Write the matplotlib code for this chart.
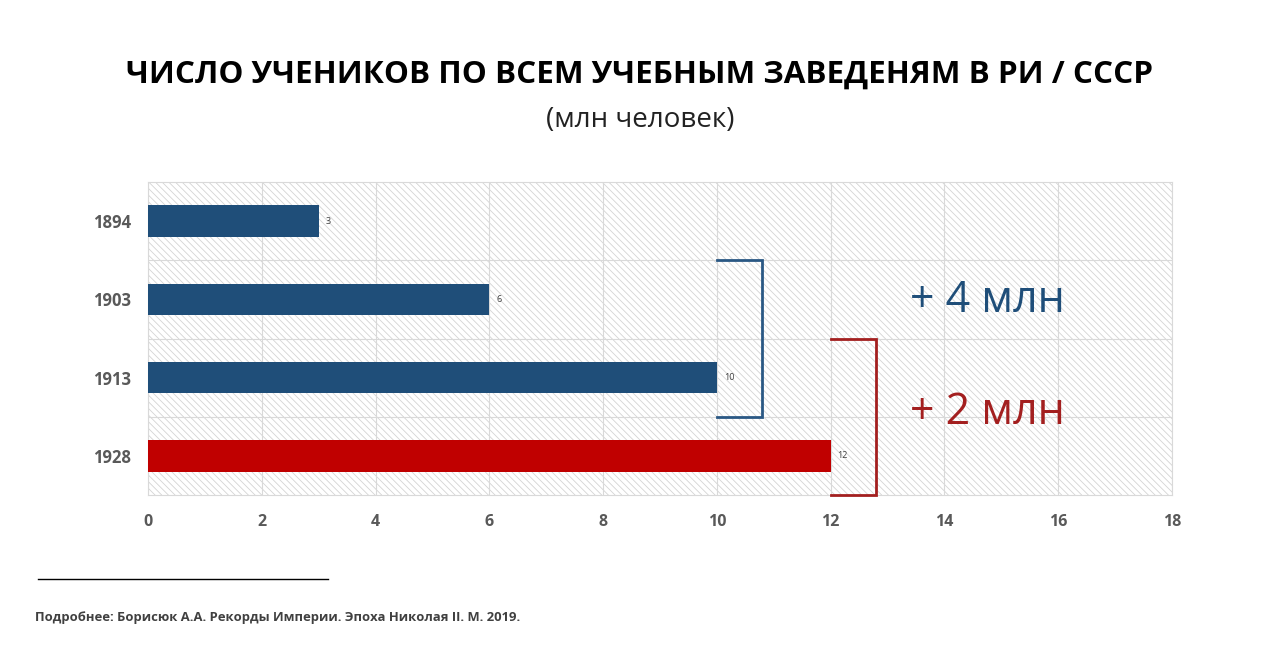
import matplotlib

matplotlib.use("Agg")
import matplotlib.pyplot as plt
from matplotlib.patches import Rectangle

plt.rcParams["font.family"] = ["Open Sans", "DejaVu Sans"]
plt.rcParams["hatch.linewidth"] = 0.6

# data
years = ["1894", "1903", "1913", "1928"]
pupils = [3, 6, 10, 12]
bar_colors = ["#1F4E79", "#1F4E79", "#1F4E79", "#C00000"]
x_ticks = [0, 2, 4, 6, 8, 10, 12, 14, 16, 18]

title = "ЧИСЛО УЧЕНИКОВ ПО ВСЕМ УЧЕБНЫМ ЗАВЕДЕНЯМ В РИ / СССР"
subtitle = "(млн человек)"
footer = "Подробнее: Борисюк А.А. Рекорды Империи. Эпоха Николая II. М. 2019."

fig = plt.figure(figsize=(12.8, 6.46), dpi=100)
fig.patch.set_facecolor("white")
ax = fig.add_axes([0.1156, 0.2337, 0.8, 0.4846])

# hatched background
ax.add_patch(Rectangle((0, 0), 1, 1, transform=ax.transAxes, facecolor="white",
                       edgecolor="#d4d4d4", hatch="\\\\\\\\\\", linewidth=0, zorder=0))

pos = list(range(len(years)))
bars = ax.barh(pos, pupils, height=0.4, color=bar_colors, zorder=3)
for b, v in zip(bars, pupils):
    ax.text(v + 0.12, b.get_y() + b.get_height() / 2, str(v), va="center", ha="left",
            fontsize=6.5, color="#404040", zorder=4)

ax.set_xlim(0, 18)
ax.set_ylim(len(years) - 0.5, -0.5)
ax.set_xticks(x_ticks)
ax.set_xticklabels([str(t) for t in x_ticks], fontsize=11.5, fontweight="bold", color="#595959")
ax.set_yticks(pos)
ax.set_yticklabels(years, fontsize=12, fontweight="bold", color="#595959")
ax.set_yticks([p + 0.5 for p in pos[:-1]], minor=True)
ax.tick_params(axis="both", which="both", length=0)
ax.tick_params(axis="y", pad=12)
ax.tick_params(axis="x", pad=14)
ax.grid(axis="x", color="#d9d9d9", linewidth=0.8, zorder=1)
ax.grid(axis="y", which="minor", color="#d9d9d9", linewidth=0.8, zorder=1)
for s in ax.spines.values():
    s.set_color("#d9d9d9")
    s.set_linewidth(0.8)

# brackets
blue_br = "#2A5884"
red_br = "#A31F1F"
ax.plot([pupils[2], pupils[2] + 0.8, pupils[2] + 0.8, pupils[2]], [0.5, 0.5, 2.5, 2.5],
        color=blue_br, linewidth=2, zorder=5, solid_joinstyle="miter", clip_on=False)
ax.plot([pupils[3], pupils[3] + 0.8, pupils[3] + 0.8, pupils[3]], [1.5, 1.5, 3.5, 3.5],
        color=red_br, linewidth=2, zorder=5, solid_joinstyle="miter", clip_on=False)

ax.text(14.75, 1.02, "+ 4 млн", fontsize=31, color="#1F4E79", ha="center", va="center", zorder=5)
ax.text(14.75, 2.45, "+ 2 млн", fontsize=31, color="#A31F1F", ha="center", va="center", zorder=5)

fig.text(0.5, 0.884, title, ha="center", va="center", fontsize=22.6, fontweight="bold", color="black")
fig.text(0.5, 0.814, subtitle, ha="center", va="center", fontsize=20, color="#222222")

fig.add_artist(plt.Line2D([38 / 1280, 328 / 1280], [1 - 579 / 646] * 2, color="black", linewidth=1))
fig.text(35 / 1280, 1 - 617 / 646, footer, ha="left", va="center", fontsize=9.4,
         fontweight="bold", color="#404040")

fig.savefig("out.png", dpi=100)
